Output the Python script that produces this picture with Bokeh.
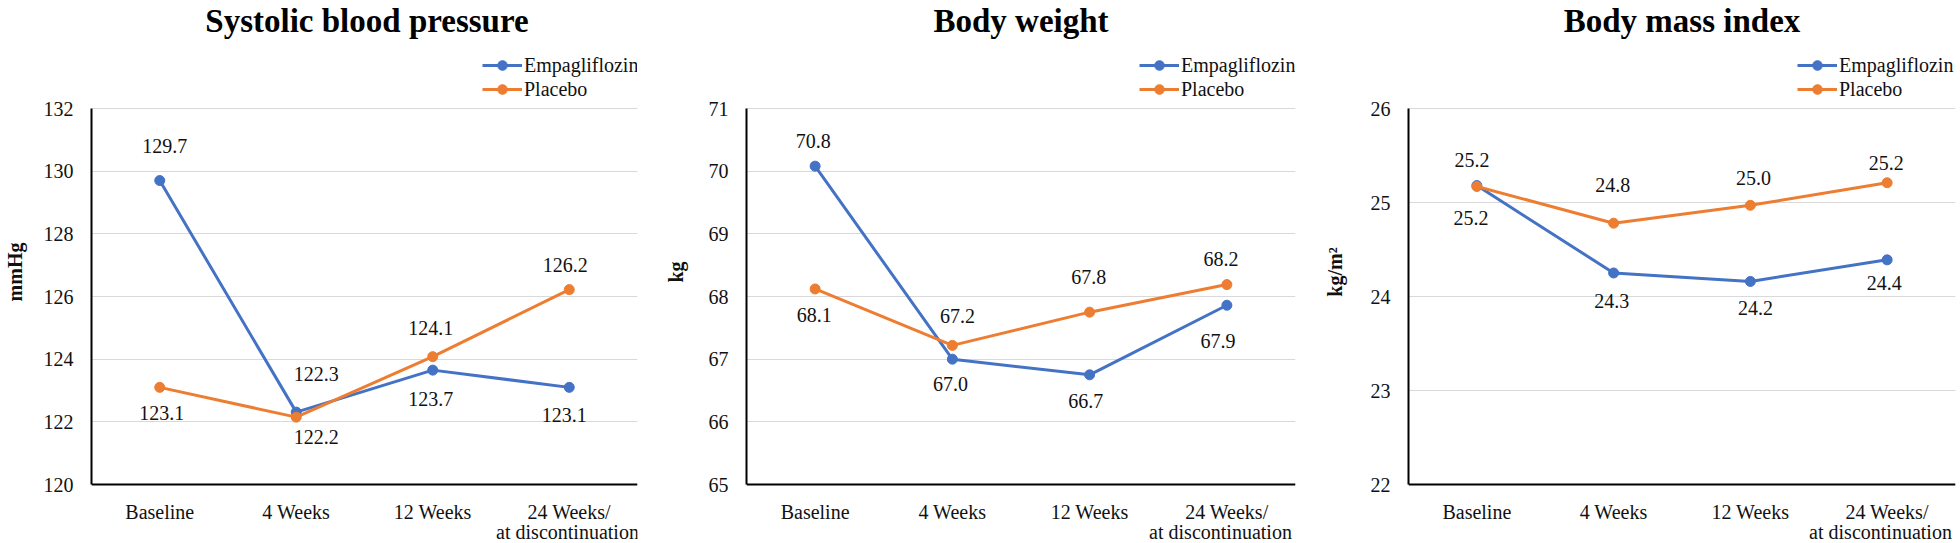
from bokeh.plotting import figure
from bokeh.models import (ColumnDataSource, FactorRange, Range1d, FixedTicker,
                          Legend, LegendItem, Label)
from bokeh.layouts import row
from bokeh.embed import file_html
from bokeh.resources import INLINE
from bokeh.core.properties import value

# ---------------- data ----------------
categories = ["Baseline", "4 Weeks", "12 Weeks", "24 Weeks/"]
category_line2 = "at discontinuation"
series_names = ["Empagliflozin", "Placebo"]

sbp_title = "Systolic blood pressure"
sbp_unit = "mmHg"
sbp_ticks = [120, 122, 124, 126, 128, 130, 132]
sbp_empa = [129.7, 122.31, 123.65, 123.1]
sbp_plac = [123.1, 122.15, 124.08, 126.22]
sbp_empa_labels = ["129.7", "122.3", "123.7", "123.1"]
sbp_plac_labels = ["123.1", "122.2", "124.1", "126.2"]

bw_title = "Body weight"
bw_unit = "kg"
bw_ticks = [65, 66, 67, 68, 69, 70, 71]
bw_empa = [70.08, 67.0, 66.75, 67.86]
bw_plac = [68.12, 67.22, 67.75, 68.19]
bw_empa_labels = ["70.8", "67.0", "66.7", "67.9"]
bw_plac_labels = ["68.1", "67.2", "67.8", "68.2"]

bmi_title = "Body mass index"
bmi_unit = "kg/m\u00b2"
bmi_ticks = [22, 23, 24, 25, 26]
bmi_empa = [25.18, 24.25, 24.16, 24.39]
bmi_plac = [25.17, 24.78, 24.97, 25.21]
bmi_empa_labels = ["25.2", "24.3", "24.2", "24.4"]
bmi_plac_labels = ["25.2", "24.8", "25.0", "25.2"]

# ---------------- styling / positions ----------------
FONT = "Liberation Serif"
BLUE = "#4472C4"
ORANGE = "#ED7D31"
TXT = "#111111"
H = 543
GRID_TOP = 108      # canvas y of the highest tick
GRID_BOTTOM = 484   # canvas y of the lowest tick (x-axis line)
TITLE_MIDDLE = 20
LINE2_MIDDLE = 531

# label offsets (pixels) for data labels: (dx list, dy list)
sbp_empa_off = ([5, 20, -2, -5], [-35, -38, 29, 28])
sbp_plac_off = ([2, 20, -2, -4], [26, 20, -29, -25])
bw_empa_off = ([-2, -2, -4, -9], [-25, 25, 26, 36])
bw_plac_off = ([-1, 5, -1, -6], [26, -29, -35, -26])
bmi_empa_off = ([-6, -2, 5, -3], [32, 28, 27, 23])
bmi_plac_off = ([-5, -1, 3, -1], [-27, -38, -27, -20])

panel_layout = [
    dict(width=650, bl=86, br=13, ylab_standoff=15, legend_x=391),
    dict(width=650, bl=96, br=5, ylab_standoff=19, legend_x=393),
    dict(width=660, bl=108, br=5, ylab_standoff=22, legend_x=389),
]


def make_panel(title, unit, ticks, empa, plac, empa_lbl, plac_lbl,
               empa_off, plac_off, lay):
    W = lay["width"]
    fw = W - lay["bl"] - lay["br"]
    ppu = (GRID_BOTTOM - GRID_TOP) / (ticks[-1] - ticks[0])
    y0 = ticks[0] - (H - GRID_BOTTOM) / ppu
    y1 = ticks[-1] + GRID_TOP / ppu
    p = figure(width=W, height=H,
               x_range=FactorRange(*categories, range_padding=0),
               y_range=Range1d(y0, y1),
               min_border_left=lay["bl"], min_border_right=lay["br"],
               min_border_top=0, min_border_bottom=0,
               output_backend="svg", toolbar_location=None, tools="")
    p.outline_line_color = None
    p.background_fill_color = "white"
    p.border_fill_color = "white"
    p.xgrid.grid_line_color = None
    p.ygrid.grid_line_color = "#D9D9D9"
    p.ygrid.grid_line_width = 1
    p.yaxis.ticker = FixedTicker(ticks=ticks)
    p.yaxis.bounds = (ticks[0], ticks[-1])
    p.xaxis.fixed_location = ticks[0]

    for ax in (p.xaxis[0], p.yaxis[0]):
        ax.axis_line_color = "black"
        ax.axis_line_width = 2
        ax.major_tick_line_color = None
        ax.minor_tick_line_color = None
        ax.major_tick_out = 0
        ax.major_tick_in = 0
        ax.major_label_text_font = FONT
        ax.major_label_text_font_size = "20px"
        ax.major_label_text_color = TXT
        ax.major_label_standoff = 18
    p.xaxis.major_label_standoff = 16

    p.yaxis.axis_label = unit
    p.yaxis.axis_label_text_font = FONT
    p.yaxis.axis_label_text_font_size = "20px"
    p.yaxis.axis_label_text_font_style = "bold"
    p.yaxis.axis_label_text_color = TXT
    p.yaxis.axis_label_standoff = lay["ylab_standoff"]

    # title (inside the frame, which spans the whole canvas height)
    p.add_layout(Label(x=fw / 2, y=H - TITLE_MIDDLE, x_units="screen", y_units="screen",
                       text=title, text_align="center", text_baseline="middle",
                       text_font=FONT, text_font_size="33px", text_font_style="bold",
                       text_color="#000000"))
    # second line of the last category label (kept inside the frame)
    p.add_layout(Label(x=min(fw * 7 / 8 + 5, fw - 75), y=H - LINE2_MIDDLE,
                       x_units="screen", y_units="screen",
                       text=category_line2, text_align="center", text_baseline="middle",
                       text_font=FONT, text_font_size="20px", text_color=TXT))

    renderers = []
    for vals, lbls, off, color in ((empa, empa_lbl, empa_off, BLUE),
                                   (plac, plac_lbl, plac_off, ORANGE)):
        src = ColumnDataSource(dict(x=categories, y=vals, lab=lbls,
                                    dx=off[0], dy=off[1]))
        ln = p.line("x", "y", source=src, line_color=color, line_width=3)
        sc = p.scatter("x", "y", source=src, size=10, fill_color=color,
                       line_color=color)
        renderers.append([ln, sc])
        p.text("x", "y", text="lab", x_offset="dx", y_offset="dy", source=src,
               text_align="center", text_baseline="middle",
               text_font=value(FONT), text_font_size="20px", text_color=TXT)

    legend = Legend(items=[LegendItem(label=series_names[0], renderers=renderers[0]),
                           LegendItem(label=series_names[1], renderers=renderers[1])],
                    location=(lay["legend_x"], H - 101),
                    orientation="vertical", glyph_width=40, glyph_height=24,
                    label_height=24, label_standoff=2, padding=0, margin=0, spacing=0,
                    border_line_color=None, background_fill_alpha=0,
                    label_text_font=FONT, label_text_font_size="20px",
                    label_text_color=TXT, label_text_baseline="middle")
    p.add_layout(legend, "center")
    return p


p1 = make_panel(sbp_title, sbp_unit, sbp_ticks, sbp_empa, sbp_plac,
                sbp_empa_labels, sbp_plac_labels, sbp_empa_off, sbp_plac_off,
                panel_layout[0])
p2 = make_panel(bw_title, bw_unit, bw_ticks, bw_empa, bw_plac,
                bw_empa_labels, bw_plac_labels, bw_empa_off, bw_plac_off,
                panel_layout[1])
p3 = make_panel(bmi_title, bmi_unit, bmi_ticks, bmi_empa, bmi_plac,
                bmi_empa_labels, bmi_plac_labels, bmi_empa_off, bmi_plac_off,
                panel_layout[2])

layout = row(p1, p2, p3, spacing=0)
open("out.html", "w").write(file_html(layout, INLINE))
